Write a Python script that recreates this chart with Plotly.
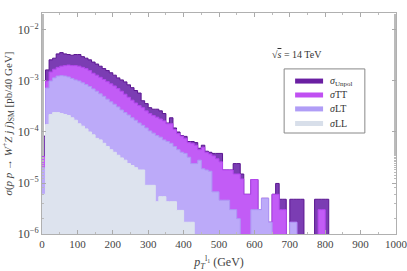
import plotly.graph_objects as go

# bin edges: 10 GeV bins from 0 to 820 GeV
bin_width = 10
n_bins = 82
bin_left = [i * bin_width for i in range(n_bins)]

unpol = [8.3e-5, 1.65e-3, 2.6e-3, 2.8e-3, 3.4e-3, 3.6e-3, 3.4e-3, 3.3e-3, 3.2e-3, 3.3e-3,
         3.3e-3, 3.0e-3, 2.8e-3, 2.6e-3, 2.35e-3, 2.15e-3, 1.95e-3, 1.75e-3, 1.6e-3, 1.45e-3,
         1.3e-3, 1.15e-3, 1.05e-3, 9.6e-4, 8.4e-4, 7.4e-4, 6.5e-4, 5.8e-4, 4.1e-4, 3.6e-4,
         3.0e-4, 2.8e-4, 2.8e-4, 2.6e-4, 2.3e-4, 1.5e-4, 1.9e-4, 1.2e-4, 1.0e-4, 8.5e-5,
         8.2e-5, 6.5e-5, 6.5e-5, 6.2e-5, 4.8e-5, 5.5e-5, 4.2e-5, 4.0e-5, 3.8e-5, 3.8e-5,
         3.8e-5, 1.8e-5, 1.8e-5, 1.8e-5, 2.4e-5, 2.4e-5, 1.5e-5, 6e-6, 6e-6, 1.17e-5,
         1.17e-5, 3e-6, 5e-6, 5e-6, 1.7e-6, 6e-6, 9.8e-6, 4.8e-6, 4.8e-6, 0,
         4.8e-6, 4.8e-6, 4.8e-6, 4.8e-6, 0, 0, 0, 4.8e-6, 4.8e-6, 4.8e-6,
         4.8e-6, 0]

tt = [3.3e-5, 1.0e-3, 1.5e-3, 1.7e-3, 1.85e-3, 1.95e-3, 2.0e-3, 2.05e-3, 2.0e-3, 2.0e-3,
      1.95e-3, 1.85e-3, 1.75e-3, 1.6e-3, 1.42e-3, 1.3e-3, 1.18e-3, 1.07e-3, 9.7e-4, 8.8e-4,
      8.0e-4, 7.1e-4, 6.3e-4, 5.5e-4, 4.8e-4, 4.2e-4, 3.7e-4, 3.3e-4, 3.0e-4, 2.6e-4,
      2.3e-4, 2.1e-4, 1.95e-4, 1.8e-4, 1.65e-4, 1.45e-4, 1.45e-4, 1.12e-4, 9.3e-5, 8.3e-5,
      7.5e-5, 6.2e-5, 6.0e-5, 5.5e-5, 4.5e-5, 5.0e-5, 4.0e-5, 3.7e-5, 3.4e-5, 3.0e-5,
      2.6e-5, 1.8e-5, 1.8e-5, 1.8e-5, 1.5e-5, 1.5e-5, 1.2e-5, 6e-6, 6e-6, 1.17e-5,
      1.17e-5, 3e-6, 5e-6, 5e-6, 1.7e-6, 6e-6, 6e-6, 3e-6, 3e-6, 0,
      1.7e-6, 1.7e-6, 0, 0, 0, 0, 0, 0, 3e-6, 3e-6,
      0, 0]

lt = [2.0e-5, 7.3e-4, 1.0e-3, 1.15e-3, 1.25e-3, 1.27e-3, 1.25e-3, 1.2e-3, 1.12e-3, 1.05e-3,
      1.0e-3, 9.2e-4, 8.5e-4, 7.8e-4, 7.0e-4, 6.3e-4, 5.6e-4, 5.0e-4, 4.4e-4, 3.9e-4,
      3.5e-4, 3.1e-4, 2.7e-4, 2.4e-4, 2.15e-4, 1.9e-4, 1.7e-4, 1.5e-4, 1.35e-4, 1.2e-4,
      1.05e-4, 9.5e-5, 8.5e-5, 7.9e-5, 7.0e-5, 6.5e-5, 6.0e-5, 5.2e-5, 4.5e-5, 4.0e-5,
      3.8e-5, 3.2e-5, 2.4e-5, 2.4e-5, 2.8e-5, 1.9e-5, 1.8e-5, 1.7e-5, 6.7e-6, 6.7e-6,
      4.6e-6, 4.6e-6, 4.6e-6, 3e-6, 3e-6, 2e-6, 0, 0, 0, 3e-6,
      3e-6, 3e-6, 5e-6, 5e-6, 1.7e-6, 0, 0, 0, 0, 0,
      1.7e-6, 1.7e-6, 0, 0, 0, 0, 0, 0, 0, 0,
      0, 0]

ll = [6e-6, 1.4e-4, 2.2e-4, 2.4e-4, 2.4e-4, 2.3e-4, 2.2e-4, 2.1e-4, 1.9e-4, 1.7e-4,
      1.45e-4, 1.3e-4, 1.15e-4, 1.0e-4, 8.8e-5, 7.5e-5, 7.0e-5, 6.0e-5, 5.2e-5, 4.5e-5,
      4.0e-5, 3.5e-5, 3.1e-5, 2.8e-5, 2.4e-5, 2.2e-5, 2.0e-5, 1.8e-5, 1.8e-5, 9e-6,
      9e-6, 9e-6, 4.3e-6, 5.4e-6, 5.4e-6, 4.3e-6, 4.3e-6, 4.3e-6, 2.9e-6, 2.9e-6,
      1.7e-6, 1.7e-6, 1.7e-6, 0, 0, 0, 0, 0, 0, 0,
      0, 0, 0, 0, 0, 0, 0, 0, 0, 0,
      0, 0, 0, 0, 0, 0, 0, 0, 0, 0,
      0, 0, 0, 0, 0, 0, 0, 0, 0, 0,
      0, 0]

x_ticks = [0, 100, 200, 300, 400, 500, 600, 700, 800, 900, 1000]
y_ticks = [1e-6, 1e-5, 1e-4, 1e-3, 1e-2]
y_tick_labels = ["10<sup>−6</sup>", "10<sup>−5</sup>", "10<sup>−4</sup>", "10<sup>−3</sup>", "10<sup>−2</sup>"]

series_names = ["<i>σ</i><sub>Unpol</sub>", "<i>σ</i>TT", "<i>σ</i>LT", "<i>σ</i>LL"]
series_values = [unpol, tt, lt, ll]
fill_colors = ["#7b3db3", "#c25cf6", "#bcaaf9", "#dde3ee"]
edge_colors = ["#5a1590", "#b447ee", "#ad98f4", "#dde3ee"]
legend_colors = ["#6a1fa2", "#c050f2", "#b09df6", "#d8dfea"]

FLOOR = 1e-9  # empty bins are drawn below the visible range


def steps(vals):
    xs = bin_left + [bin_left[-1] + bin_width]
    ys = [v if v > 0 else FLOOR for v in vals]
    ys = ys + [ys[-1]]
    return xs, ys


fig = go.Figure()
for name, vals, fc, ec in zip(series_names, series_values, fill_colors, edge_colors):
    xs, ys = steps(vals)
    fig.add_trace(go.Scatter(
        x=xs, y=ys, mode="lines", line=dict(shape="hv", color=ec, width=1),
        fill="tozeroy", fillcolor=fc, name=name, showlegend=False, hoverinfo="skip"))

axis_font = dict(family="Liberation Serif", size=11, color="#444")
fig.update_layout(
    width=407, height=271,
    margin=dict(l=42, r=11, t=13, b=37),
    paper_bgcolor="white", plot_bgcolor="white",
    font=dict(family="Liberation Serif", color="#444"),
    showlegend=False,
    xaxis=dict(range=[0, 1000], tickvals=x_ticks, ticktext=[str(v) for v in x_ticks],
               ticks="inside", ticklen=4, automargin=False, ticklabeloverflow="allow",
               tickcolor="#aaa", mirror="allticks", showline=True,
               linecolor="#b0b0b0", linewidth=1, showgrid=False, zeroline=False,
               tickfont=axis_font,
               minor=dict(dtick=50, ticks="inside", ticklen=2, tickcolor="#bbb", showgrid=False),
               title=dict(text="<i>p</i><sub><i>T</i></sub><sup>l<sub>1</sub></sup> (GeV)",
                          font=dict(family="Liberation Serif", size=12, color="#444"),
                          standoff=9)),
    yaxis=dict(type="log", range=[-6, -1.667], tickvals=y_ticks, ticktext=y_tick_labels,
               ticks="inside", ticklen=4, tickcolor="#aaa", mirror="allticks", automargin=False,
               ticklabeloverflow="allow",
               showline=True, linecolor="#b0b0b0", linewidth=1, showgrid=False,
               zeroline=False, tickfont=dict(family="Liberation Serif", size=12, color="#444"),
               minor=dict(ticks="inside", ticklen=2, tickcolor="#bbb", showgrid=False),
               title=dict(text="<i>σ</i>(<i>p p</i> → <i>W</i><sup>+</sup><i>Z j j</i>)<sub>SM</sub> [pb/40 GeV]",
                          font=dict(family="Liberation Serif", size=11, color="#444"),
                          standoff=3)),
)

# legend box (drawn manually to match the compact Mathematica legend)
box_x0, box_x1, box_y0, box_y1 = 0.684, 0.912, 0.457, 0.747
fig.add_shape(type="rect", xref="paper", yref="paper", x0=box_x0, x1=box_x1,
              y0=box_y0, y1=box_y1, line=dict(color="#888", width=1), fillcolor="white")
row_y = [0.692, 0.629, 0.566, 0.500]
for name, lc, ry in zip(series_names, legend_colors, row_y):
    fig.add_shape(type="line", xref="paper", yref="paper", x0=0.715, x1=0.794,
                  y0=ry, y1=ry, line=dict(color=lc, width=5))
    fig.add_annotation(text=name, xref="paper", yref="paper", x=0.807, y=ry,
                       xanchor="left", yanchor="middle", showarrow=False,
                       font=dict(family="Liberation Serif", size=10, color="#333"))

fig.add_annotation(text="√<span style='text-decoration:overline'><i>s</i></span> = 14 TeV",
                   xref="paper", yref="paper", x=0.797, y=0.845,
                   showarrow=False, font=dict(family="Liberation Serif", size=10, color="#333"))

fig.write_html("out.html", config={"displayModeBar": False},
               post_script="document.body.style.margin='0';document.body.style.padding='0';")
